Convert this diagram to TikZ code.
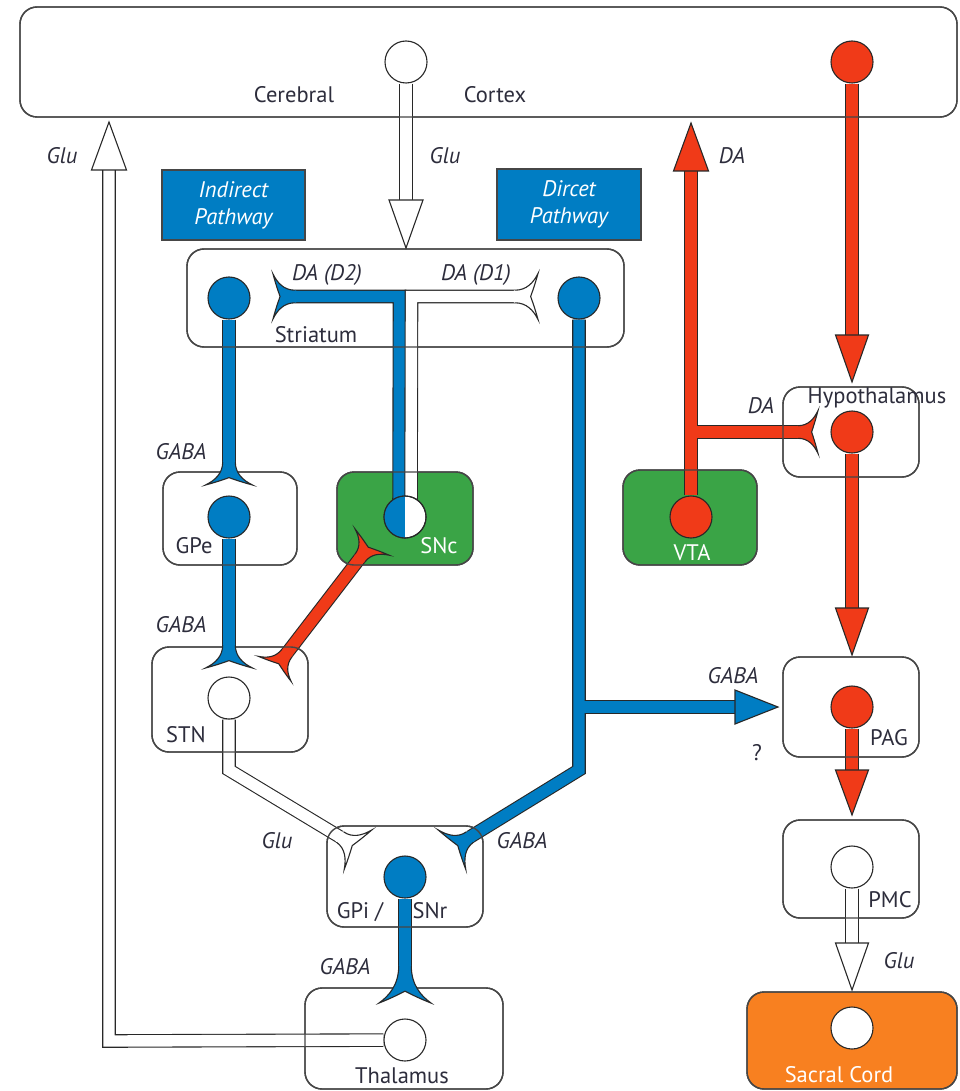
\documentclass[tikz,border=0pt]{standalone}
\usepackage{fontspec}
\setmainfont{PT Sans}
\pgfdeclarelayer{bg}
\pgfdeclarelayer{ax}
\pgfsetlayers{bg,ax,main}
\definecolor{nblue}{RGB}{0,125,195}
\definecolor{nred}{RGB}{240,58,24}
\definecolor{ngreen}{RGB}{58,164,70}
\definecolor{norange}{RGB}{248,128,32}
\definecolor{boxc}{RGB}{70,70,70}
\definecolor{axc}{RGB}{40,40,40}
\definecolor{txt}{RGB}{45,45,60}
\newcommand\lbl{\fontsize{22.5}{27}\selectfont}
\tikzset{
  box/.style={draw=boxc, line width=1.4pt, rounded corners=17pt, fill=white, inner sep=0pt, outer sep=0pt, anchor=north west},
  outl/.style={draw=boxc, line width=1.4pt, rounded corners=17pt},
  pbox/.style={draw=boxc, line width=1.2pt, fill=nblue, text=white, font=\lbl\itshape, align=center, inner sep=0pt, outer sep=0pt, anchor=north west},
  axline/.style={draw=axc, line width=1.1pt},
  axon/.style={draw=axc, line width=1.1pt, double distance=11.4pt},
  axB/.style={axon, double=nblue},
  axW/.style={axon, double=white},
  axR/.style={axon, double=nred},
  neuron/.style={circle, draw=axc, line width=1.1pt, minimum size=42pt, inner sep=0pt},
  lab/.style={text=txt, font=\lbl, anchor=base, inner sep=0pt},
  ilab/.style={lab, font=\lbl\itshape},
  wlab/.style={lab, text=white},
  pics/rcpt/.style n args={3}{code={
    \fill[#1] (-1.5,5.6) -- (0,6.3) .. controls (0.5*#2,6.3) and (0.8*#2,0.6*#3) .. (#2,#3)
      .. controls (0.85*#2,0.45*#3) and (0.72*#2,0.12*#3) .. (0.68*#2,0)
      .. controls (0.72*#2,-0.12*#3) and (0.85*#2,-0.45*#3) .. (#2,-#3)
      .. controls (0.8*#2,-0.6*#3) and (0.5*#2,-6.3) .. (0,-6.3) -- (-1.5,-5.6) -- cycle;
    \draw[axline] (0,6.3) .. controls (0.5*#2,6.3) and (0.8*#2,0.6*#3) .. (#2,#3)
      .. controls (0.85*#2,0.45*#3) and (0.72*#2,0.12*#3) .. (0.68*#2,0)
      .. controls (0.72*#2,-0.12*#3) and (0.85*#2,-0.45*#3) .. (#2,-#3)
      .. controls (0.8*#2,-0.6*#3) and (0.5*#2,-6.3) .. (0,-6.3);
  }},
  pics/tri/.style n args={3}{code={
    \filldraw[axline, fill=#1] (0,#3) -- (#2,0) -- (0,-#3) -- cycle;
  }},
}
\begin{document}
\begin{tikzpicture}[x=1pt,y=-1pt]
\useasboundingbox (0,0) rectangle (959,1091);
\begin{pgfonlayer}{bg}
\node[box, minimum width=937pt, minimum height=110pt] (ctx) at (20,7) {};
\node[pbox, minimum width=143pt, minimum height=70pt] (ind) at (162,170) {Indirect\\Pathway};
\node[pbox, minimum width=144pt, minimum height=71pt] (dir) at (497,169) {Dircet\\Pathway};
\node[box, minimum width=437pt, minimum height=98pt] (str) at (187,249) {};
\node[box, minimum width=134pt, minimum height=93pt] (gpe) at (163,472) {};
\node[box, fill=ngreen, minimum width=136pt, minimum height=93pt] (snc) at (337,472) {};
\node[box, fill=ngreen, minimum width=134pt, minimum height=95pt] (vta) at (623,470) {};
\node[box, minimum width=136pt, minimum height=90pt] (hyp) at (783,387) {};
\node[box, minimum width=156pt, minimum height=105pt] (stn) at (152,647) {};
\node[box, minimum width=136pt, minimum height=100pt] (pag) at (783,657) {};
\node[box, minimum width=156pt, minimum height=101pt] (gpi) at (327,826) {};
\node[box, minimum width=136pt, minimum height=98pt] (pmc) at (783,820) {};
\node[box, minimum width=198pt, minimum height=101pt] (thal) at (305,988) {};
\node[box, fill=norange, minimum width=210pt, minimum height=97pt] (sac) at (747,992) {};
\end{pgfonlayer}
% neurons
\node[neuron, fill=white] (ctxW) at (406,62) {};
\node[neuron, fill=nred] (ctxR) at (852,62) {};
\node[neuron, fill=nblue] (strL) at (229,298) {};
\node[neuron, fill=nblue] (strR) at (579,298) {};
\node[neuron, fill=nblue] (gpeN) at (229,517) {};
\node[neuron, fill=white] (sncN) at (405,517) {};
\begin{scope}
\clip (sncN.center) circle[radius=21pt];
\fill[nblue] ([xshift=-22pt]sncN.north) rectangle (sncN.south);
\end{scope}
\draw[axline] (sncN.center) circle[radius=21pt];
\node[neuron, fill=nred] (vtaN) at (691,517) {};
\node[neuron, fill=nred] (hypN) at (852,432) {};
\node[neuron, fill=white] (stnN) at (229,698) {};
\node[neuron, fill=nred] (pagN) at (852,707) {};
\node[neuron, fill=nblue] (gpiN) at (405,877) {};
\node[neuron, fill=white] (pmcN) at (852,867) {};
\node[neuron, fill=white] (thN) at (405,1040) {};
\node[neuron, fill=white] (sacN) at (852,1028) {};
% coordinates
\coordinate (ctxWb) at (406,200);
\coordinate (gluLb) at (109,170);
\coordinate (thC) at (109,1041);
\coordinate (daUb) at (691,171);
\coordinate (daJ) at (691,432);
\coordinate (hypJ) at (798,432);
\coordinate (ctxRb) at (852,335);
\coordinate (hypPb) at (852,608);
\coordinate (pagPb) at (852,770);
\coordinate (pmcSb) at (852,943);
\coordinate (sBC) at (399.5,296.5);
\coordinate (sWC) at (411.5,296.5);
\coordinate (d2J) at (295,296.5);
\coordinate (d1J) at (515,296.5);
\coordinate (gpeJ) at (229,462);
\coordinate (stnJ) at (229,645);
\coordinate (stnC) at (229,770);
\coordinate (gpiLJ) at (340,837);
\coordinate (dirC) at (579,770);
\coordinate (dirB) at (579,707);
\coordinate (pagAb) at (735,707);
\coordinate (gpiRJ) at (470,837);
\coordinate (sncRJ) at (360,558);
\coordinate (stnRJ) at (287,653);
\coordinate (thJ) at (405,966);
% axons
\begin{pgfonlayer}{ax}
\draw[axW] (ctxW) -- (ctxWb);
\draw[axW] (thN) -- (thC) -- (gluLb);
\draw[axR] (daJ) -- (hypJ);
\draw[axR] (vtaN) -- (daUb);
\fill[nred] (696.4,426.4) rectangle (698.2,437.6);
\draw[axR] (ctxR) -- (ctxRb);
\draw[axR] (hypN) -- (hypPb);
\draw[axR] (pagN) -- (pagPb);
\draw[axW] (pmcN) -- (pmcSb);
\draw[axB] ([xshift=-6pt]sncN.center) -- (sBC) -- (d2J);
\draw[axW] ([xshift=6pt]sncN.center) -- (sWC) -- (d1J);
\draw[axB] (strL) -- (gpeJ);
\draw[axB] (gpeN) -- (stnJ);
\draw[axW] (stnN) -- (stnC) -- (gpiLJ);
\draw[axB] (dirB) -- (pagAb);
\draw[axB] (strR) -- (dirC) -- (gpiRJ);
\fill[nblue] (584.4,701.4) rectangle (586.2,712.6);
\draw[axR] (sncRJ) -- (stnRJ);
\draw[axB] (gpiN) -- (thJ);
\end{pgfonlayer}
% box outlines over axons
\foreach \b in {ctx,str,gpe,snc,vta,hyp,stn,pag,gpi,pmc,thal,sac}
  \draw[outl] (\b.north west) rectangle (\b.south east);
% arrowheads
\pic[rotate=-90] at (ctxWb) {tri={white}{48}{17}};
\pic[rotate=90] at (gluLb) {tri={white}{48}{17.5}};
\pic[rotate=90] at (daUb) {tri={nred}{48}{17.5}};
\pic[rotate=-90] at (ctxRb) {tri={nred}{47}{16.5}};
\pic[rotate=-90] at (hypPb) {tri={nred}{47}{16.5}};
\pic at (pagAb) {tri={nblue}{43}{17}};
\pic[rotate=-90] at (pagPb) {tri={nred}{45}{16.5}};
\pic[rotate=-90] at (pmcSb) {tri={white}{47}{16.5}};
% receptors
\pic[rotate=180] at (d2J) {rcpt={nblue}{22}{22.5}};
\pic at (d1J) {rcpt={white}{23}{23}};
\pic[rotate=-90] at (gpeJ) {rcpt={nblue}{23}{23.5}};
\pic[rotate=-90] at (stnJ) {rcpt={nblue}{23}{23.5}};
\pic[rotate=52.5] at (sncRJ) {rcpt={nred}{20}{21.5}};
\pic[rotate=232.5] at (stnRJ) {rcpt={nred}{20}{20.5}};
\pic[rotate=-35] at (gpiLJ) {rcpt={white}{22}{24}};
\pic[rotate=215] at (gpiRJ) {rcpt={nblue}{22}{24}};
\pic[rotate=-90] at (thJ) {rcpt={nblue}{37}{26}};
\pic at (hypJ) {rcpt={nred}{20}{21.5}};
% labels
\node[lab] (lCer) at (294,103) {Cerebral};
\node[lab] (lCor) at (495,103) {Cortex};
\node[ilab] (lGlu1) at (62,164) {Glu};
\node[ilab] (lGlu2) at (445,164) {Glu};
\node[ilab] (lDA1) at (732,164) {DA};
\node[ilab] (lD2) at (327,280) {DA (D2)};
\node[ilab] (lD1) at (476,280) {DA (D1)};
\node[lab] (lStr) at (316,342) {Striatum};
\node[ilab] (lGABA1) at (181,459) {GABA};
\node[lab] (lGPe) at (194,553) {GPe};
\node[wlab] (lSNc) at (439,553) {SNc};
\node[ilab] (lGABA2) at (181,632) {GABA};
\node[lab] (lSTN) at (186,742) {STN};
\node[wlab] (lVTA) at (692,560) {VTA};
\node[lab] (lHyp) at (877,403) {Hypothalamus};
\node[ilab] (lDA2) at (761,413) {DA};
\node[ilab] (lGABA3) at (733,683) {GABA};
\node[lab] (lQ) at (757,760) {?};
\node[lab] (lPAG) at (889,745) {PAG};
\node[lab] (lPMC) at (890,907) {PMC};
\node[ilab] (lGlu3) at (899,968) {Glu};
\node[wlab] (lSac) at (839,1082) {Sacral Cord};
\node[ilab] (lGABA4) at (522,848) {GABA};
\node[ilab] (lGlu4) at (277,848) {Glu};
\node[lab] (lGPi) at (360,918) {GPi /};
\node[lab] (lSNr) at (430,918) {SNr};
\node[ilab] (lGABA5) at (345,974) {GABA};
\node[lab] (lTha) at (402,1083) {Thalamus};
\end{tikzpicture}
\end{document}
